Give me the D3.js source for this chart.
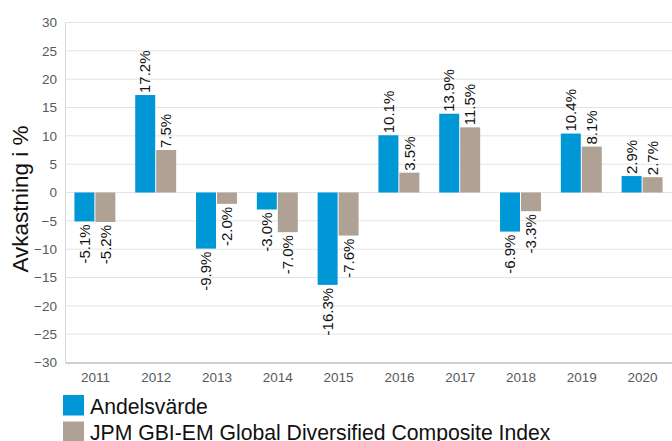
<!DOCTYPE html>
<html><head><meta charset="utf-8">
<script src="https://cdn.jsdelivr.net/npm/d3@7"></script>
<style>body{margin:0;background:#fff}svg{display:block;font-family:Arial,"Liberation Sans",sans-serif}</style>
</head><body><div id="c"></div>
<script>
const years = ["2011","2012","2013","2014","2015","2016","2017","2018","2019","2020"];
const fund = [-5.1,17.2,-9.9,-3.0,-16.3,10.1,13.9,-6.9,10.4,2.9];
const index = [-5.2,7.5,-2.0,-7.0,-7.6,3.5,11.5,-3.3,8.1,2.7];
const seriesNames = ["Andelsvärde","JPM GBI-EM Global Diversified Composite Index"];
const colors = ["#0097d7","#afa193"];
const yTicks = [-30,-25,-20,-15,-10,-5,0,5,10,15,20,25,30];

const W=672,H=441;
const svg=d3.select("#c").append("svg").attr("width",W).attr("height",H);
const x=d3.scaleBand().domain(years).range([65,673]).paddingInner(0.31).paddingOuter(0.155);
const x1=d3.scaleBand().domain([0,1]).range([0,x.bandwidth()]);
const y=d3.scaleLinear().domain([-30,30]).range([362.5,22.5]);

// grid
svg.append("g").selectAll("line").data(yTicks.filter(d=>d!==-30)).join("line")
 .attr("x1",65).attr("x2",672).attr("y1",d=>y(d)).attr("y2",d=>y(d))
 .attr("stroke","#e3e3e3").attr("stroke-width",1);

const ya=svg.append("g").attr("transform","translate(65,0)")
 .call(d3.axisLeft(y).tickValues(yTicks).tickSize(0).tickPadding(8));
ya.select(".domain").attr("stroke","#d9d9d9");
ya.selectAll("text").attr("fill","#595959").style("font-size","13.5px").style("font-family","Arial, 'Liberation Sans', sans-serif");

const xa=svg.append("g").attr("transform","translate(0,362.5)")
 .call(d3.axisBottom(x).tickSize(0).tickPadding(10));
xa.select(".domain").attr("stroke","#d0d0d0").attr("stroke-width",2);
xa.selectAll("text").attr("fill","#595959").style("font-size","13.5px").style("font-family","Arial, 'Liberation Sans', sans-serif");

const data=[fund,index];
data.forEach((vals,s)=>{
  const g=svg.append("g");
  g.selectAll("rect").data(vals).join("rect")
   .attr("x",(d,i)=>x(years[i])+x1(s)).attr("width",x1.bandwidth()-1)
   .attr("y",d=>y(Math.max(0,d))).attr("height",d=>Math.abs(y(d)-y(0)))
   .attr("fill",colors[s]);
  g.selectAll("text").data(vals).join("text")
   .attr("transform",(d,i)=>{
     const cx=x(years[i])+x1(s)+(x1.bandwidth()-1)/2;
     const cy=d>=0?y(d)-2:y(d)+3;
     return `translate(${cx},${cy}) rotate(-90)`;})
   .attr("text-anchor",d=>d>=0?"start":"end")
   .attr("dy","0.35em")
   .style("font-size","15px").attr("fill","#111")
   .text(d=>d.toFixed(1)+"%");
});

svg.append("text").attr("transform","translate(28,199) rotate(-90)")
 .attr("text-anchor","middle").style("font-size","22.5px").attr("fill","#111")
 .text("Avkastning i %");

const lg=svg.append("g").selectAll("g").data(seriesNames).join("g")
 .attr("transform",(d,i)=>`translate(63,${395+i*26.5})`);
lg.append("rect").attr("width",21).attr("height",20.5).attr("fill",(d,i)=>colors[i]);
lg.append("text").attr("x",27).attr("y",18.5).style("font-size","21.2px").attr("fill","#111").text(d=>d);
</script></body></html>
